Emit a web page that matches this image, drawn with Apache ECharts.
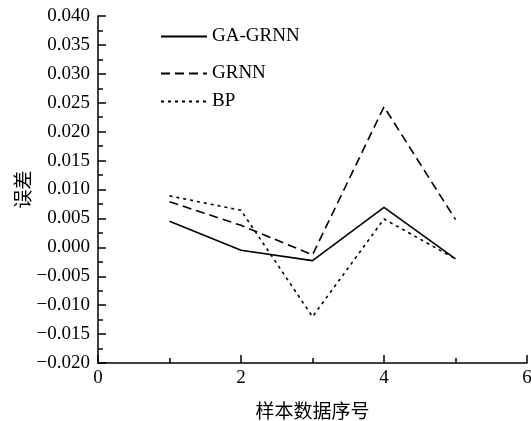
<!DOCTYPE html>
<html>
<head>
<meta charset="utf-8">
<script src="https://cdn.jsdelivr.net/npm/echarts@6/dist/echarts.min.js"></script>
<style>
html,body{margin:0;padding:0;background:#fff;}
#chart{width:531px;height:421px;}
</style>
</head>
<body>
<div id="chart"></div>
<script>
//样本序号
var xData = [1, 2, 3, 4, 5]
//三种模型的误差
var gaGrnn = [0.0045, -0.0005, -0.0023, 0.0069, -0.0020]
var grnn = [0.0079, 0.0038, -0.0013, 0.0243, 0.0048]
var bp = [0.0089, 0.0064, -0.0120, 0.0049, -0.0020]
var names = ['GA-GRNN', 'GRNN', 'BP']

function pairs (ys) {
    var arr = []
    for (var i = 0; i < xData.length; i++) {
        arr.push([xData[i], ys[i]])
    }
    return arr
}

var serif = 'Liberation Serif'
var cjk = 'Noto Sans CJK SC'

//每个图例单独放，行距不一样
function legendAt (name, top) {
    return {
        data: [name],
        left: 155,
        top: top,
        itemWidth: 46,
        itemHeight: 14,
        textStyle: { fontFamily: serif, fontSize: 19, color: '#000' },
        selectedMode: false
    }
}

var chart = echarts.init(document.getElementById('chart'))
var option = {
    animation: false,
    backgroundColor: '#fff',
    legend: [legendAt(names[0], 22), legendAt(names[1], 59), legendAt(names[2], 87)],
    grid: { left: 98, right: 4, top: 16, bottom: 58, containLabel: false, outerBoundsMode: 'none' },
    xAxis: {
        type: 'value',
        min: 0, max: 6, interval: 2,
        name: '样本数据序号',
        nameLocation: 'middle',
        nameGap: 38,
        nameTextStyle: { fontFamily: cjk, fontSize: 19, color: '#000' },
        axisLine: { onZero: false, lineStyle: { color: '#000', width: 1.5 } },
        axisTick: { inside: true, length: 8, lineStyle: { color: '#000', width: 1.5 } },
        minorTick: { show: true, splitNumber: 2, length: 5, lineStyle: { color: '#000', width: 1.5 } },
        axisLabel: { fontFamily: serif, fontSize: 19, color: '#000', margin: 6 },
        splitLine: { show: false }
    },
    yAxis: {
        type: 'value',
        min: -0.02, max: 0.04, interval: 0.005,
        name: '误差',
        nameLocation: 'middle',
        nameGap: 66,
        nameMoveOverlap: false,
        nameTextStyle: { fontFamily: cjk, fontSize: 19, color: '#000' },
        axisLine: { show: true, onZero: false, lineStyle: { color: '#000', width: 1.5 } },
        axisTick: { show: true, inside: true, length: 8, lineStyle: { color: '#000', width: 1.5 } },
        minorTick: { show: true, splitNumber: 2, length: 5, lineStyle: { color: '#000', width: 1.5 } },
        axisLabel: {
            fontFamily: serif, fontSize: 19, color: '#000', margin: 8,
            formatter: function (v) {
                if (Math.abs(v) < 1e-9) return '0.000'
                return (v < 0 ? '\u2212' : '') + Math.abs(v).toFixed(3)
            }
        },
        splitLine: { show: false }
    },
    series: [
        {
            name: names[0], type: 'line', data: pairs(gaGrnn), symbol: 'none',
            lineStyle: { color: '#000', width: 1.6, type: 'solid' },
            itemStyle: { color: '#000', opacity: 0 }
        },
        {
            name: names[1], type: 'line', data: pairs(grnn), symbol: 'none',
            lineStyle: { color: '#000', width: 1.6, type: [9, 5] },
            itemStyle: { color: '#000', opacity: 0 }
        },
        {
            name: names[2], type: 'line', data: pairs(bp), symbol: 'none',
            lineStyle: { color: '#000', width: 1.6, type: [3, 4] },
            itemStyle: { color: '#000', opacity: 0 }
        }
    ]
}
chart.setOption(option)
</script>
</body>
</html>
